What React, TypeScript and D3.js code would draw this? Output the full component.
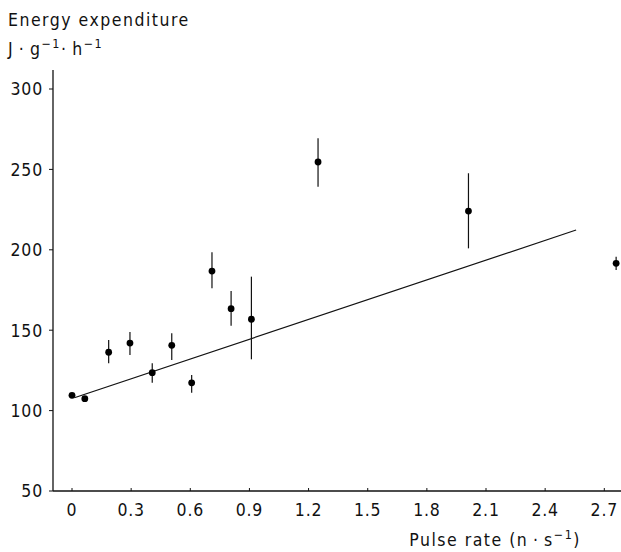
import React from 'react';
import * as d3 from 'd3';

// pulse rate (n/s), energy expenditure (J/g/h), error bar ends
const pulseRate = [0, 0.065, 0.186, 0.294, 0.407, 0.506, 0.607, 0.71, 0.807, 0.91, 1.248, 2.011, 2.76];
const energy = [109.5, 107.4, 136.3, 142.0, 123.6, 140.6, 117.3, 186.8, 163.4, 156.8, 254.6, 224.1, 191.6];
const errHigh = [109.5, 107.4, 143.9, 148.9, 129.4, 148.1, 122.1, 198.4, 174.4, 183.3, 269.3, 247.6, 195.7];
const errLow = [109.5, 107.4, 129.4, 134.6, 117.3, 131.5, 111.1, 176.1, 152.8, 131.9, 239.2, 200.9, 187.4];

// regression line ends
const fitX = [0.012, 2.557];
const fitY = [108.0, 212.3];

const xTicks = [0, 0.3, 0.6, 0.9, 1.2, 1.5, 1.8, 2.1, 2.4, 2.7];
const yTicks = [50, 100, 150, 200, 250, 300];

const font = "'DejaVu Sans Condensed', 'DejaVu Sans', sans-serif";

export default function App() {
    let width = 621
    let height = 552

    let x = d3.scaleLinear().domain([0, 2.7]).range([72, 604.3])
    let y = d3.scaleLinear().domain([50, 300]).range([491, 89])

    let axisLeft = 53
    let axisBottom = y(50)

    let fitLine = d3.line<number>()
        .x((d, i) => x(fitX[i]))
        .y((d, i) => y(fitY[i]))

    return (
        <svg width={width} height={height}
            style={{ position: 'absolute', left: 0, top: 0, background: '#fff' }}
            fontFamily={font} fontStretch="condensed">
            {/* axis titles */}
            <text x={8} y={26} fontSize={17.5} letterSpacing={1.5} fill="#111">Energy expenditure</text>
            <text x={8} y={55} fontSize={17.5} letterSpacing={1.5} fill="#111">
                {'J\u2009·\u2009g'}<tspan dy={-7} fontSize={12.5}>−1</tspan>
                <tspan dy={7}>{'·\u2009h'}</tspan>
                <tspan dy={-7} fontSize={12.5}>−1</tspan>
            </text>
            <text x={581} y={546} fontSize={17.5} letterSpacing={1.5} textAnchor="end" fill="#111">
                {'Pulse rate (n\u2009·\u2009s'}<tspan dy={-7} fontSize={12.5}>−1</tspan>
                <tspan dy={7}>)</tspan>
            </text>

            {/* y axis */}
            <line x1={axisLeft} x2={axisLeft} y1={70} y2={axisBottom} stroke="#111" strokeWidth={1.3} />
            {yTicks.map(t => (
                <g key={'y' + t}>
                    <line x1={axisLeft - 4} x2={axisLeft} y1={y(t)} y2={y(t)} stroke="#111" />
                    <text x={43} y={y(t)} dy="0.36em" fontSize={17.5} letterSpacing={0.8} textAnchor="end" fill="#111">{t}</text>
                </g>
            ))}

            {/* x axis */}
            <line x1={axisLeft} x2={width} y1={axisBottom} y2={axisBottom} stroke="#111" strokeWidth={1.3} />
            {xTicks.map(t => (
                <g key={'x' + t}>
                    <line x1={x(t)} x2={x(t)} y1={axisBottom} y2={axisBottom - 3} stroke="#111" />
                    <text x={x(t)} y={516} fontSize={17.5} letterSpacing={0.8} textAnchor="middle" fill="#111">{String(t)}</text>
                </g>
            ))}

            {/* regression line */}
            <path d={fitLine(fitX) || ''} fill="none" stroke="#111" strokeWidth={1.2} />

            {/* error bars and points */}
            {pulseRate.map((p, i) => (
                <g key={'p' + i}>
                    {errHigh[i] !== errLow[i] &&
                        <line x1={x(p)} x2={x(p)} y1={y(errHigh[i])} y2={y(errLow[i])} stroke="#111" strokeWidth={1.2} />}
                    <circle cx={x(p)} cy={y(energy[i])} r={3.4} fill="#000" />
                </g>
            ))}
        </svg>
    )
}
